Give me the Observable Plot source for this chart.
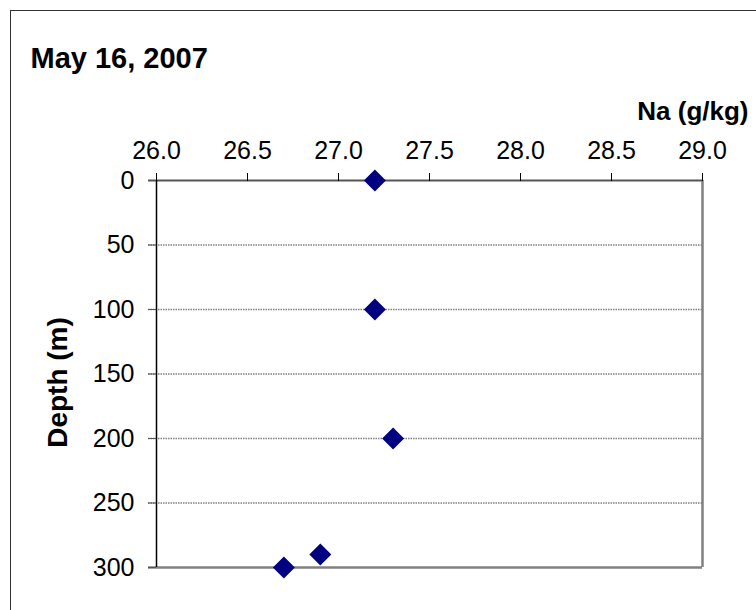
<!DOCTYPE html>
<html>
<head>
<meta charset="utf-8">
<script src="https://cdn.jsdelivr.net/npm/d3@7"></script>
<script src="https://cdn.jsdelivr.net/npm/@observablehq/plot@0.6"></script>
<style>
  html, body { margin: 0; padding: 0; background: #fff; overflow: hidden; }
  #wrap { position: relative; width: 756px; height: 610px; }
  #wrap svg { display: block; }
  #border { position: absolute; left: 10px; top: 10px; width: 800px; height: 700px;
            border: 1px solid #333; pointer-events: none; }
</style>
</head>
<body>
<div id="wrap"><div id="border"></div></div>
<script>
// Data
const depth = [0, 100, 200, 290, 300];          // Depth (m)
const na = [27.2, 27.2, 27.3, 26.9, 26.7];     // Na (g/kg)
const xTicks = [26.0, 26.5, 27.0, 27.5, 28.0, 28.5, 29.0];
const yTicks = [0, 50, 100, 150, 200, 250, 300];
const gridDepths = [50, 100, 150, 200, 250];
const titleText = ["May 16, 2007"];
const xLabel = ["Na (g/kg)"];
const yLabel = ["Depth (m)"];

const data = depth.map((d, i) => ({depth: d, na: na[i]}));

const chart = Plot.plot({
  width: 756,
  height: 610,
  marginLeft: 156,
  marginRight: 54,
  marginTop: 180,
  marginBottom: 43,
  style: {fontFamily: "'Liberation Sans', Arial, sans-serif", fontSize: "25px", background: "transparent", color: "#000"},
  x: {domain: [26, 29]},
  y: {domain: [0, 300], reverse: true},
  marks: [
    Plot.gridY(gridDepths, {stroke: "#808080", strokeOpacity: 1, strokeWidth: 1.5, strokeDasharray: "1.5,1", x1: 26, x2: 29, insetLeft: -8}),
    Plot.ruleY([300], {stroke: "#808080", strokeWidth: 2.5, insetLeft: -8}),
    Plot.ruleX([29], {stroke: "#808080", strokeWidth: 2.5}),
    Plot.ruleY([0], {stroke: "#555", strokeWidth: 2, insetLeft: -8}),
    Plot.ruleX([26], {stroke: "#000", strokeWidth: 1.5}),
    Plot.axisX({anchor: "top", ticks: xTicks, tickFormat: d => d.toFixed(1), tickSize: 8, tickPadding: 14, label: null, stroke: "#000"}),
    Plot.axisY({anchor: "left", ticks: yTicks, tickSize: 8, tickPadding: 14, label: null, stroke: "#555"}),
    Plot.dot(data, {x: "na", y: "depth", symbol: "diamond2", r: 9.9, fill: "#000080", stroke: "none"}),
    Plot.text(titleText, {text: d => d, frameAnchor: "top-left", dx: -126, dy: -133, textAnchor: "start", fontWeight: "bold", fontSize: 29}),
    Plot.text(xLabel, {text: d => d, frameAnchor: "top-right", dx: 46, dy: -79, textAnchor: "end", fontWeight: "bold", fontSize: 26}),
    Plot.text(yLabel, {text: d => d, frameAnchor: "left", dx: -98, dy: 8.5, rotate: -90, textAnchor: "middle", fontWeight: "bold", fontSize: 28})
  ]
});
document.getElementById("wrap").appendChild(chart);
</script>
</body>
</html>
